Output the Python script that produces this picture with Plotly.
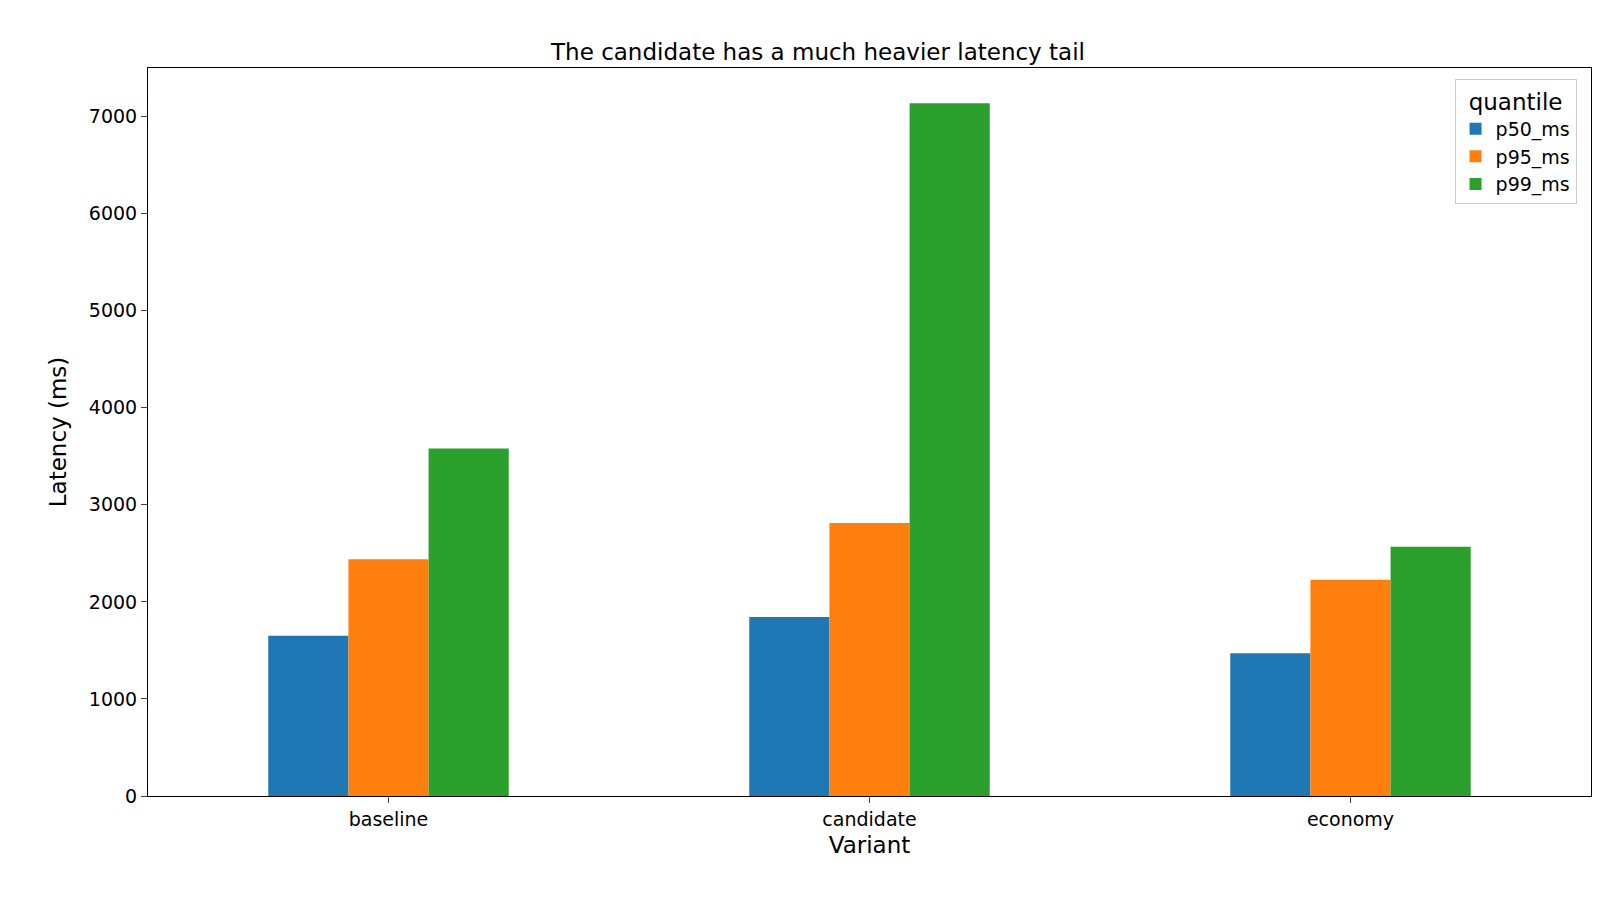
import plotly.graph_objects as go

variants = ["baseline", "candidate", "economy"]
p50_ms = [1650, 1843, 1470]
p95_ms = [2440, 2813, 2227]
p99_ms = [3580, 7138, 2568]

series = [("p50_ms", p50_ms, "#1f77b4"), ("p95_ms", p95_ms, "#ff7f0e"), ("p99_ms", p99_ms, "#2ca02c")]

fig = go.Figure()
for name, vals, color in series:
    fig.add_trace(go.Bar(x=variants, y=vals, name=name, marker_color=color, marker_line_width=0))

fig.update_layout(
    width=1620, height=900,
    paper_bgcolor="white", plot_bgcolor="white",
    font=dict(family="DejaVu Sans", size=19, color="black"),
    title=dict(text="The candidate has a much heavier latency tail", x=0.5, xanchor="center",
               y=0.96, font=dict(size=23)),
    margin=dict(l=140, r=37, t=60, b=112),
    barmode="group", bargap=0.5, bargroupgap=0,
    legend=dict(title=dict(text="quantile", side="top center"), x=0.99, y=0.985,
                xanchor="right", yanchor="top", bordercolor="#cccccc", borderwidth=1,
                font=dict(size=19)),
    xaxis=dict(title=dict(text="Variant", standoff=8), range=[-0.5, 2.5], showline=True,
               linecolor="black", mirror=True, ticks="outside", ticklen=6),
    yaxis=dict(title=dict(text="Latency (ms)"), range=[0, 7500], dtick=1000, showgrid=False,
               showline=True, linecolor="black", mirror=True, ticks="outside", ticklen=6,
               zeroline=False),
)
fig.write_html("out.html")
